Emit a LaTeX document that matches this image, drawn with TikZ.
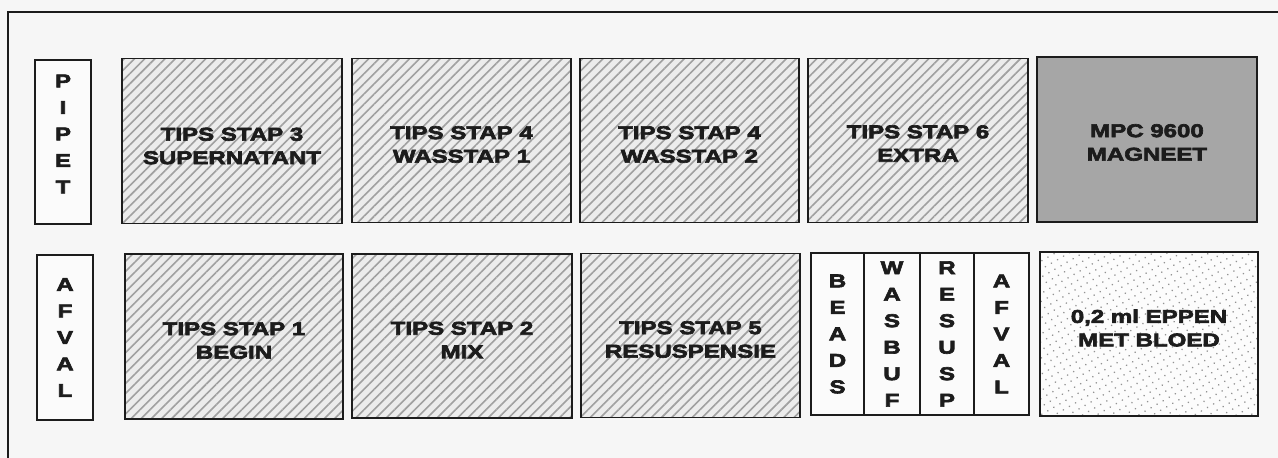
\documentclass[tikz,border=0pt]{standalone}
\usepackage{fontspec}
\newfontfamily\blk{Liberation Sans}[BoldFeatures={FakeBold=3.5,FakeStretch=1.3}]
\usetikzlibrary{patterns.meta}
\definecolor{paper}{RGB}{246,246,246}
\definecolor{hatchbg}{RGB}{236,236,236}
\definecolor{hatchln}{RGB}{160,160,160}
\definecolor{mpcgray}{RGB}{166,166,166}
\definecolor{ink}{RGB}{28,28,28}
\begin{document}
\begin{tikzpicture}[x=1pt,y=-1pt,
  box/.style={draw=ink, line width=1.7pt, inner sep=0pt, text=ink,
    font=\blk\bfseries\fontsize{18.5}{23.5}\selectfont, align=center},
  lbl/.style={text=ink, inner sep=0pt, align=center,
    font=\blk\bfseries\fontsize{18.5}{23.5}\selectfont},
  hatchbox/.style={box, preaction={fill=hatchbg},
    pattern={Lines[angle=45,distance=7.2pt,line width=1.6pt]}, pattern color=hatchln},
  vbox/.style={box, fill=white!60!paper, font=\blk\bfseries\fontsize{18.5}{26.5}\selectfont},
  mpcbox/.style={box, fill=mpcgray},
  dotbox/.style={box, preaction={fill=white!70!paper},
    pattern={Dots[distance=7pt,radius=0.9pt,angle=30]}, pattern color=gray!85}
]
\useasboundingbox (0,0) rectangle (1278,458);
\fill[paper] (0,0) rectangle (1278,458);
\coordinate (fbl) at (8,458);
\coordinate (ftl) at (8,12);
\coordinate (ftr) at (1278,12);
\draw[ink, line width=1.8pt] (fbl) -- (ftl) -- (ftr);

% row 1
\node[vbox, minimum width=56pt, minimum height=164pt,
  label={[lbl, font=\blk\bfseries\fontsize{18.5}{26.5}\selectfont, yshift=8pt]center:P\\I\\P\\E\\T}] (pipet) at (63,142) {};
\node[hatchbox, minimum width=220pt, minimum height=165pt,
  label={[lbl, yshift=-5pt]center:TIPS STAP 3\\SUPERNATANT}] (t3) at (232,141) {};
\node[hatchbox, minimum width=219pt, minimum height=164pt,
  label={[lbl, yshift=-4pt]center:TIPS STAP 4\\WASSTAP 1}] (t4a) at (461.5,140.5) {};
\node[hatchbox, minimum width=219pt, minimum height=164pt,
  label={[lbl, yshift=-4pt]center:TIPS STAP 4\\WASSTAP 2}] (t4b) at (689.5,140.5) {};
\node[hatchbox, minimum width=220pt, minimum height=164pt,
  label={[lbl, yshift=-3pt]center:TIPS STAP 6\\EXTRA}] (t6) at (918,140.5) {};
\node[mpcbox, minimum width=220pt, minimum height=165pt,
  label={[lbl, yshift=-3pt]center:MPC 9600\\MAGNEET}] (mpc) at (1147,139.5) {};

% row 2
\node[vbox, minimum width=56pt, minimum height=165pt] (afval) at (65,337.5) {A\\F\\V\\A\\L};
\node[hatchbox, minimum width=218pt, minimum height=165pt,
  label={[lbl, yshift=-4pt]center:TIPS STAP 1\\BEGIN}] (t1) at (234,336.5) {};
\node[hatchbox, minimum width=220pt, minimum height=164pt,
  label={[lbl, yshift=-4pt]center:TIPS STAP 2\\MIX}] (t2) at (462,336) {};
\node[hatchbox, minimum width=219pt, minimum height=164pt,
  label={[lbl, yshift=-4pt]center:TIPS STAP 5\\RESUSPENSIE}] (t5) at (690.5,335.5) {};
\node[vbox, minimum width=53pt, minimum height=162pt] (beads) at (837.5,334) {B\\E\\A\\D\\S};
\node[vbox, minimum width=56pt, minimum height=162pt] (wasbuf) at (892,334) {W\\A\\S\\B\\U\\F};
\node[vbox, minimum width=54pt, minimum height=162pt] (resusp) at (947,334) {R\\E\\S\\U\\S\\P};
\node[vbox, minimum width=55pt, minimum height=162pt] (afval2) at (1001.5,334) {A\\F\\V\\A\\L};
\node[dotbox, minimum width=218pt, minimum height=164pt,
  label={[lbl, yshift=6pt]center:0,2 ml EPPEN\\MET BLOED}] (eppen) at (1149,334) {};
\end{tikzpicture}
\end{document}
